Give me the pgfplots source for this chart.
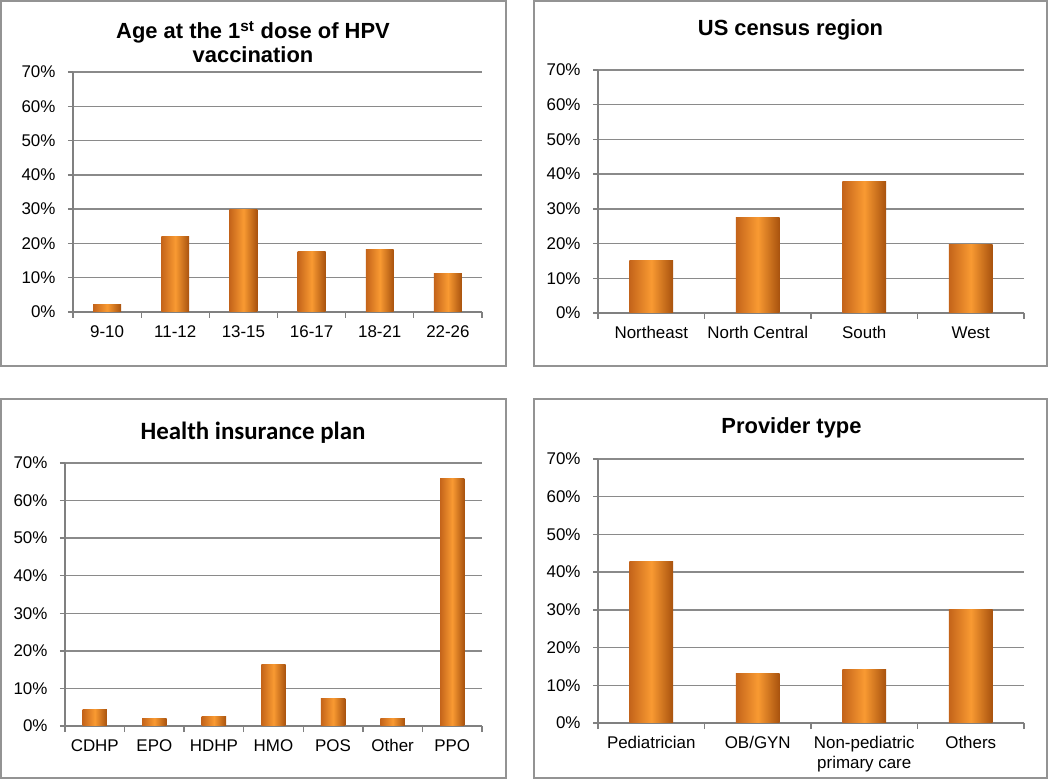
\documentclass[border=0pt]{standalone}
\usepackage{pgfplots}
\pgfplotsset{compat=1.18}
\usepackage{fontspec}
\setmainfont{Liberation Sans}
\newfontfamily\calibri{Carlito}
\definecolor{gridgray}{HTML}{8A8A8A}
\definecolor{axgray}{HTML}{808080}
\definecolor{framegray}{HTML}{939393}
\definecolor{barL}{HTML}{C4641A}
\definecolor{barM}{HTML}{F99A32}
\definecolor{barR}{HTML}{A8520E}
\pgfplotsset{
  hpv/.style={
    scale only axis,
    ymin=0, ymax=70,
    ytick={0,10,20,30,40,50,60,70},
    yticklabels={0\%,10\%,20\%,30\%,40\%,50\%,60\%,70\%},
    ymajorgrids,
    grid style={color=gridgray, line width=1.3bp},
    axis x line*=bottom, axis y line*=left,
    axis line style={color=axgray, line width=1.3bp},
    every tick/.style={color=axgray, line width=1.3bp},
    tick align=outside,
    major tick length=5bp,
    minor tick length=6bp,
    major x tick style={draw=none},
    enlargelimits=false,
    ybar, bar width=0.41,
    tick label style={font=\fontsize{17}{20}\selectfont, text=black},
    yticklabel style={xshift=-9bp},
    xticklabel style={yshift=-5bp, align=center},
    xtick={0,1,...,10},
  },
  hpvbar/.style={draw=none, left color=barL, right color=barR, middle color=barM, bar shift=0pt},
}
\newcommand\obar[2]{\addplot[hpvbar] coordinates {(#1,#2)};}
\begin{document}
\begin{tikzpicture}
\path[use as bounding box] (0bp,0bp) rectangle (1050bp,779bp);
% frames
\draw[framegray, line width=1.6bp] (1bp,778bp) rectangle (506bp,413bp);
\draw[framegray, line width=1.6bp] (534bp,778bp) rectangle (1047bp,413bp);
\draw[framegray, line width=1.6bp] (1bp,380bp) rectangle (506bp,1bp);
\draw[framegray, line width=1.6bp] (534bp,380bp) rectangle (1047bp,1bp);
% titles
\node[align=center, font=\fontsize{22}{24}\selectfont\bfseries] at (253bp,737bp) {Age at the 1\textsuperscript{st} dose of HPV\\vaccination};
\node[font=\fontsize{22}{24}\selectfont\bfseries] at (790.5bp,749bp) {US census region};
\node[font=\calibri\fontsize{25}{28}\selectfont\bfseries] at (253bp,346bp) {Health insurance plan};
\node[font=\fontsize{22}{24}\selectfont\bfseries] at (791.5bp,351bp) {Provider type};
% panel 1
\begin{axis}[hpv, at={(73bp,467bp)}, anchor=south west, width=409bp, height=240bp,
  xmin=-0.5, xmax=5.5, minor xtick={-0.5,0.5,...,5.5},
  xticklabels={9-10,11-12,13-15,16-17,18-21,22-26}]
\obar{0}{2.1}
\obar{1}{22.1}
\obar{2}{29.9}
\obar{3}{17.6}
\obar{4}{18.2}
\obar{5}{11.1}
\end{axis}
% panel 2
\begin{axis}[hpv, at={(598bp,466bp)}, anchor=south west, width=426bp, height=243bp,
  xmin=-0.5, xmax=3.5, minor xtick={-0.5,0.5,...,3.5},
  xticklabels={Northeast,North Central,South,West}]
\obar{0}{15.2}
\obar{1}{27.5}
\obar{2}{37.9}
\obar{3}{19.7}
\end{axis}
% panel 3
\begin{axis}[hpv, at={(65bp,53bp)}, anchor=south west, width=417bp, height=263bp,
  xmin=-0.5, xmax=6.5, minor xtick={-0.5,0.5,...,6.5},
  xticklabels={CDHP,EPO,HDHP,HMO,POS,Other,PPO}]
\obar{0}{4.3}
\obar{1}{1.9}
\obar{2}{2.4}
\obar{3}{16.5}
\obar{4}{7.3}
\obar{5}{1.9}
\obar{6}{66.0}
\end{axis}
% panel 4
\begin{axis}[hpv, at={(598bp,56bp)}, anchor=south west, width=426bp, height=264bp,
  xmin=-0.5, xmax=3.5, minor xtick={-0.5,0.5,...,3.5},
  xticklabels={Pediatrician,OB/GYN,{Non-pediatric\\primary care},Others}]
\obar{0}{42.9}
\obar{1}{13.1}
\obar{2}{14.1}
\obar{3}{30.1}
\end{axis}
\end{tikzpicture}
\end{document}
